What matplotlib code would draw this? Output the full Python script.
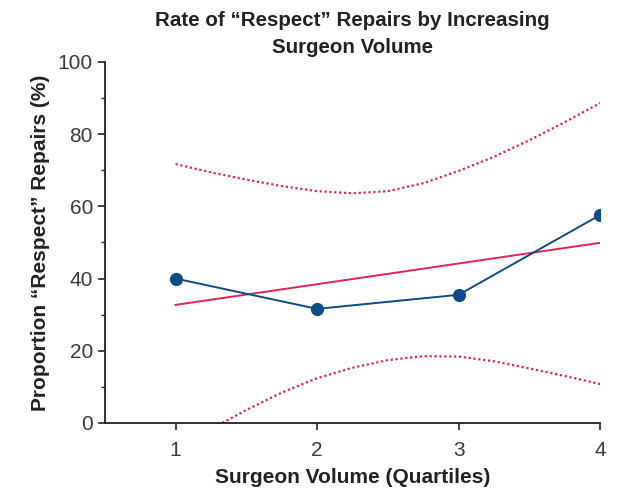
import numpy as np
import matplotlib
matplotlib.use("Agg")
import matplotlib.pyplot as plt
from matplotlib.ticker import MultipleLocator

plt.rcParams['font.family'] = ['Liberation Sans', 'DejaVu Sans']

# observed rate per surgeon volume quartile
quartiles = [1, 2, 3, 4]
rate = [40.0, 31.6, 35.5, 57.6]

# fitted trend line (end points)
fit_x = [1, 4]
fit_y = [32.7, 49.9]

# confidence band, read at regular points along x
ci_x = [1.0, 1.25, 1.5, 1.75, 2.0, 2.25, 2.5, 2.75, 3.0, 3.25, 3.5, 3.75, 4.0]
ci_upper = [71.7, 69.4, 67.4, 65.6, 64.2, 63.6, 64.2, 66.4, 69.8, 73.7, 78.3, 83.3, 88.6]
ci_lower_x = [1.33, 1.5, 1.75, 2.0, 2.25, 2.5, 2.75, 3.0, 3.25, 3.5, 3.75, 4.0]
ci_lower = [0.0, 3.6, 8.4, 12.4, 15.3, 17.4, 18.5, 18.4, 17.1, 15.1, 13.0, 10.8]

blue = '#0f4c86'
red = '#e0245a'

fig = plt.figure(figsize=(6.2, 4.91), dpi=100)
ax = fig.add_axes([0.169, 0.1385, 0.799, 0.7355])

ax.plot(ci_x, ci_upper, color=red, lw=1.6, ls=(0, (1, 1.2)))
ax.plot(ci_lower_x, ci_lower, color=red, lw=1.6, ls=(0, (1, 1.2)))
ax.plot(fit_x, fit_y, color=red, lw=1.4)
ax.plot(quartiles, rate, color=blue, lw=1.4, marker='o', ms=8.5)

ax.set_xlim(0.5, 4.0)
ax.set_ylim(0, 100)
ax.set_xticks(quartiles)
ax.yaxis.set_major_locator(MultipleLocator(20))
ax.yaxis.set_minor_locator(MultipleLocator(10))

for s in ['top', 'right']:
    ax.spines[s].set_visible(False)
for s in ['left', 'bottom']:
    ax.spines[s].set_linewidth(1.3)
    ax.spines[s].set_color('#222222')
ax.tick_params(which='major', length=5, width=1.2, color='#222222', labelsize=15, labelcolor='#3a3a3a')
ax.tick_params(which='minor', length=3, width=1.0, color='#222222')
ax.tick_params(axis='x', pad=8)

ax.set_xlabel('Surgeon Volume (Quartiles)', fontsize=15, fontweight='bold', color='#222222', labelpad=6)
ax.set_ylabel('Proportion \u201cRespect\u201d Repairs (%)', fontsize=15, fontweight='bold', color='#222222', labelpad=6)
ax.set_title('Rate of \u201cRespect\u201d Repairs by Increasing\nSurgeon Volume',
             fontsize=14.8, fontweight='bold', color='#222222', pad=6.5, linespacing=1.55)

fig.savefig('out.png', dpi=100)
